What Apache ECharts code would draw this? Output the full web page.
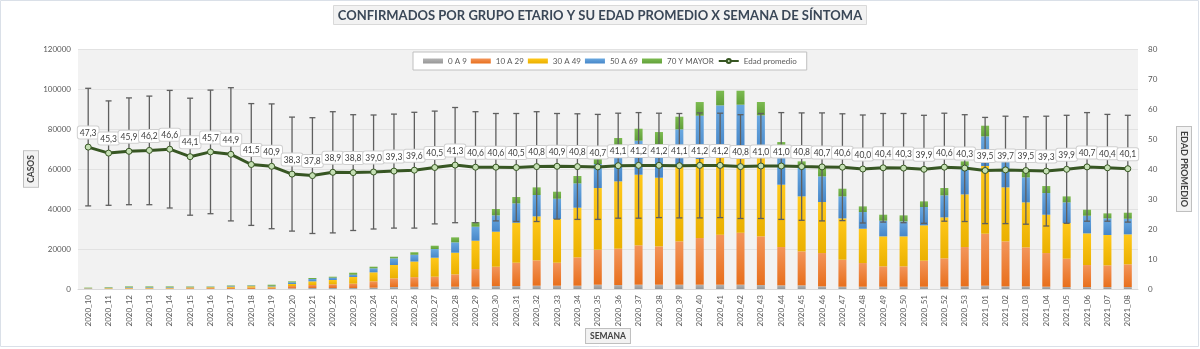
<!DOCTYPE html>
<html>
<head>
<meta charset="utf-8">
<script src="https://cdn.jsdelivr.net/npm/echarts@6/dist/echarts.min.js"></script>
<style>
html,body{margin:0;padding:0;background:#fff;}
#chart{width:1200px;height:349px;}
</style>
</head>
<body>
<div id="chart"></div>
<script>
const semanas = ['2020_10','2020_11','2020_12','2020_13','2020_14','2020_15','2020_16','2020_17','2020_18','2020_19',
 '2020_20','2020_21','2020_22','2020_23','2020_24','2020_25','2020_26','2020_27','2020_28','2020_29',
 '2020_30','2020_31','2020_32','2020_33','2020_34','2020_35','2020_36','2020_37','2020_38','2020_39',
 '2020_40','2020_41','2020_42','2020_43','2020_44','2020_45','2020_46','2020_47','2020_48','2020_49',
 '2020_50','2020_51','2020_52','2020_53','2021_01','2021_02','2021_03','2021_04','2021_05','2021_06',
 '2021_07','2021_08'];

const grupo0a9 = [30,40,50,50,50,50,50,60,60,100,
 330,500,500,500,670,1000,1100,1150,1150,1150,
 1480,1480,1650,1650,1650,2150,1980,2150,2150,2150,
 2150,2150,2150,1980,1820,1820,1320,1150,1150,1150,
 1150,1150,1150,1320,1650,1320,1320,1150,980,980,
 980,980];
const grupo10a29 = [120,150,250,250,250,350,400,550,650,600,
 1170,1500,1830,2170,3170,4330,4830,5000,6170,8830,
 9670,11670,12670,11500,14170,17500,18170,19670,19170,21670,
 23330,25000,26000,24340,19160,17000,16660,13500,11830,10170,
 10170,13000,14170,19660,26000,22500,19500,16830,14170,11000,
 10840,11340];
const grupo30a49 = [180,250,350,350,350,450,450,600,700,550,
 1000,1830,2170,3330,4500,6670,7800,9500,10830,14170,
 17500,20000,22000,21830,24830,30830,33670,35330,34330,37580,
 39520,43350,42850,40680,31170,27500,25500,20670,17170,15000,
 15000,17670,20500,26330,33850,27000,22500,19170,17830,15830,
 15170,15000];
const grupo50a69 = [150,200,300,300,300,250,250,350,300,350,
 830,1170,1170,1150,2000,3330,3400,4330,5170,7000,
 8170,9670,10670,10170,12170,12000,17480,17000,16830,18420,
 21650,21320,21150,19820,18830,15000,12830,11000,8330,7830,
 7500,9170,11000,14330,14820,18000,12500,10830,10330,8830,
 8330,7830];
const grupo70mas = [220,260,350,350,350,200,150,240,190,550,
 500,500,480,1000,820,820,1250,1670,2500,2330,
 3170,3170,3830,3500,3670,3500,4200,6000,6000,6330,
 6830,7330,7000,6670,2500,2500,4170,3830,2830,3000,
 3000,2830,3670,2170,5330,1170,3000,3500,3000,3000,
 2500,3000];
const edadPromedio = [47.3,45.3,45.9,46.2,46.6,44.1,45.7,44.9,41.5,40.9,
 38.3,37.8,38.9,38.8,39.0,39.3,39.6,40.5,41.3,40.6,
 40.6,40.5,40.8,40.9,40.8,40.7,41.1,41.2,41.2,41.1,
 41.2,41.2,40.8,41.0,41.0,40.8,40.7,40.6,40.0,40.4,
 40.3,39.9,40.6,40.3,39.5,39.7,39.5,39.3,39.9,40.7,
 40.4,40.1];
const desviacion = [19.6,17.4,17.8,18.1,19.6,19.5,20.6,22.2,20.3,20.8,
 19.0,19.3,20.2,19.3,19.0,19.0,19.3,18.8,19.2,18.5,
 17.9,18.0,18.3,17.6,17.6,17.5,17.5,17.6,17.4,17.4,
 17.5,17.4,17.3,17.5,17.8,17.9,18.0,17.8,18.0,18.1,
 18.2,18.0,18.0,17.8,17.7,17.9,17.9,18.3,18.0,18.1,
 17.8,17.8];

const nombres = ['0 A 9','10 A 29','30 A 49','50 A 69','70 Y MAYOR'];
const valores = [grupo0a9, grupo10a29, grupo30a49, grupo50a69, grupo70mas];
const colores = [['#b4b4b4','#979797'],['#f3955a','#e86f1c'],['#ffc81a','#eab000'],['#69a8e0','#4787c9'],['#7cbb50','#62a03a']];

function grad(c){
  return new echarts.graphic.LinearGradient(0,0,0,1,[{offset:0,color:c[0]},{offset:1,color:c[1]}]);
}

const chart = echarts.init(document.getElementById('chart'), null, {renderer:'canvas'});
const FONT = 'Lato';
const nameBox = {fontSize:8.5, fontWeight:'bold', color:'#404040', fontFamily:FONT,
  backgroundColor:'#f2f2f2', borderColor:'#bfbfbf', borderWidth:1, padding:[3,4,2,4]};

const series = nombres.map((n,k)=>({
  name:n, type:'bar', stack:'total', barWidth:8, yAxisIndex:0, z:2,
  itemStyle:{color:grad(colores[k])},
  data:valores[k]
}));

series.push({
  name:'Error', type:'custom', yAxisIndex:1, z:5, silent:true,
  data: semanas.map((s,i)=>[i, edadPromedio[i]-desviacion[i], edadPromedio[i]+desviacion[i]]),
  encode:{x:0, y:[1,2]},
  renderItem: function(params, api){
    const lo = api.coord([api.value(0), api.value(1)]);
    const hi = api.coord([api.value(0), api.value(2)]);
    const w = 3;
    const st = {stroke:'#5f5f5f', lineWidth:1.3};
    return {type:'group', children:[
      {type:'line', shape:{x1:lo[0],y1:lo[1],x2:hi[0],y2:hi[1]}, style:st},
      {type:'line', shape:{x1:lo[0]-w,y1:lo[1],x2:lo[0]+w,y2:lo[1]}, style:st},
      {type:'line', shape:{x1:hi[0]-w,y1:hi[1],x2:hi[0]+w,y2:hi[1]}, style:st}
    ]};
  }
});

series.push({
  name:'Edad promedio', type:'line', yAxisIndex:1, z:10,
  data:edadPromedio, symbol:'circle', symbolSize:6,
  lineStyle:{color:'#375623', width:3},
  itemStyle:{color:'#c5e0b4', borderColor:'#375623', borderWidth:1},
  label:{show:true, position:'top', distance:5,
    formatter: p => p.value.toFixed(1).replace('.',','),
    fontSize:8.5, color:'#404040', fontFamily:FONT,
    backgroundColor:'#ffffff', borderColor:'#d0d0d0', borderWidth:1, borderRadius:2,
    padding:[2,2,1,2]},
  labelLayout:{hideOverlap:false},
  emphasis:{disabled:true}
});

chart.setOption({
  animation:false,
  backgroundColor:'#ffffff',
  textStyle:{fontFamily:FONT},
  title:{
    text:'CONFIRMADOS POR GRUPO ETARIO Y SU EDAD PROMEDIO X SEMANA DE SÍNTOMA',
    left:'center', top:5, padding:[4,5,3,5],
    backgroundColor:'#f2f2f2', borderColor:'#d9d9d9', borderWidth:1,
    textStyle:{fontSize:13, fontWeight:'bold', color:'#3a4757', fontFamily:FONT}
  },
  legend:{
    left:413, top:52, padding:[5,10,5,10], itemGap:4,
    backgroundColor:'#ffffff', borderColor:'#c0c0c0', borderWidth:1,
    itemWidth:20, itemHeight:5,
    textStyle:{fontSize:8, color:'#595959', fontFamily:FONT},
    data:[{name:'0 A 9',icon:'rect'},{name:'10 A 29',icon:'rect'},{name:'30 A 49',icon:'rect'},
          {name:'50 A 69',icon:'rect'},{name:'70 Y MAYOR',icon:'rect'},{name:'Edad promedio'}]
  },
  grid:{left:78, right:62, top:49, bottom:60, show:true, backgroundColor:'#f2f2f2', borderWidth:0,
        containLabel:false, outerBoundsMode:'none'},
  xAxis:{
    type:'category', data:semanas,
    axisTick:{show:false},
    axisLine:{lineStyle:{color:'#d9d9d9'}},
    axisLabel:{rotate:90, interval:0, fontSize:8, color:'#595959', margin:6, fontFamily:FONT},
    name:'SEMANA', nameLocation:'middle', nameGap:40, nameMoveOverlap:false, nameTextStyle:nameBox
  },
  yAxis:[
    {type:'value', min:0, max:120000, interval:20000,
     axisLine:{show:false}, axisTick:{show:false},
     axisLabel:{fontSize:8, color:'#595959', margin:7, fontFamily:FONT, formatter: v => String(v)},
     splitLine:{lineStyle:{color:'#e2e2e2'}},
     name:'CASOS', nameLocation:'middle', nameGap:40, nameMoveOverlap:false, nameRotate:90, nameTextStyle:nameBox},
    {type:'value', min:0, max:80, interval:10, position:'right',
     axisLine:{show:false}, axisTick:{show:false},
     axisLabel:{fontSize:8, color:'#595959', margin:10, fontFamily:FONT},
     splitLine:{show:false},
     name:'EDAD PROMEDIO', nameLocation:'middle', nameGap:39, nameMoveOverlap:false, nameRotate:-90,
     nameTextStyle:Object.assign({}, nameBox, {fontSize:9})}
  ],
  graphic:[{type:'rect', silent:true, z:-1, shape:{x:0.5,y:0.5,width:1198,height:346},
            style:{fill:null, stroke:'#dae0e8', lineWidth:1}}],
  series:series
});
</script>
</body>
</html>
